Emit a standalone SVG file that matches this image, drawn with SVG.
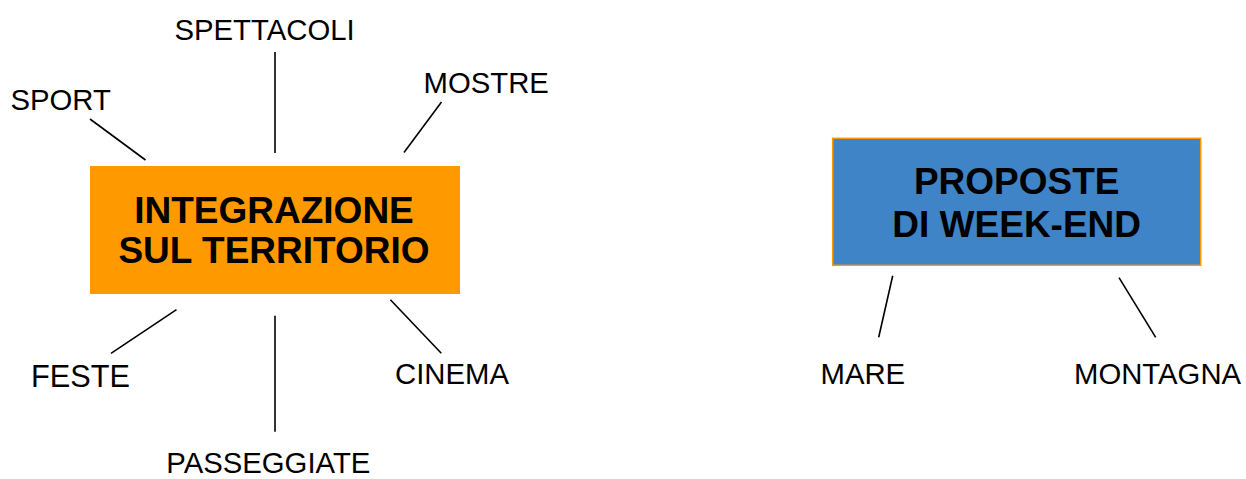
<svg xmlns="http://www.w3.org/2000/svg" width="1246" height="479" viewBox="0 0 1246 479">
<style>
.lbl{font-family:"Liberation Sans",Arial,sans-serif;font-size:29.3px;fill:#000}
.ttl{font-family:"Liberation Sans",Arial,sans-serif;font-size:37px;font-weight:bold;fill:#000;text-anchor:middle}
.con line{stroke:#000;stroke-width:1.6}
</style>
<rect width="1246" height="479" fill="#fff"/>
<g id="connectors" class="con">
<line x1="90" y1="119" x2="145.5" y2="160"/>
<line x1="275" y1="52" x2="275" y2="153"/>
<line x1="441.5" y1="102" x2="404" y2="152.5"/>
<line x1="176.5" y1="309.7" x2="111" y2="353.3"/>
<line x1="275" y1="315.7" x2="275" y2="431.7"/>
<line x1="390.4" y1="299.7" x2="441.3" y2="353.3"/>
<line x1="892.7" y1="275.7" x2="878.7" y2="337.3"/>
<line x1="1119" y1="277.7" x2="1155.7" y2="337.3"/>
</g>
<g id="node-integrazione">
<rect x="90" y="166" width="370" height="128" fill="#FF9900"/>
<text class="ttl" x="274" y="222.7">INTEGRAZIONE</text>
<text class="ttl" x="274" y="262.7">SUL TERRITORIO</text>
</g>
<g id="node-proposte">
<rect x="832.7" y="138.3" width="368" height="127" fill="#3F84C6" stroke="#FF9900" stroke-width="1.5"/>
<text class="ttl" x="1016.7" y="194">PROPOSTE</text>
<text class="ttl" x="1016.7" y="237.3">DI WEEK-END</text>
</g>
<g id="node-sport"><text class="lbl" x="10.5" y="110">SPORT</text></g>
<g id="node-spettacoli"><text class="lbl" x="174.5" y="40">SPETTACOLI</text></g>
<g id="node-mostre"><text class="lbl" x="423.5" y="93.3">MOSTRE</text></g>
<g id="node-feste"><text class="lbl" x="31" y="387.3" style="font-size:30.7px">FESTE</text></g>
<g id="node-passeggiate"><text class="lbl" x="166.3" y="472.5">PASSEGGIATE</text></g>
<g id="node-cinema"><text class="lbl" x="395" y="384.3">CINEMA</text></g>
<g id="node-mare"><text class="lbl" x="820.5" y="384">MARE</text></g>
<g id="node-montagna"><text class="lbl" x="1074" y="384">MONTAGNA</text></g>
</svg>
